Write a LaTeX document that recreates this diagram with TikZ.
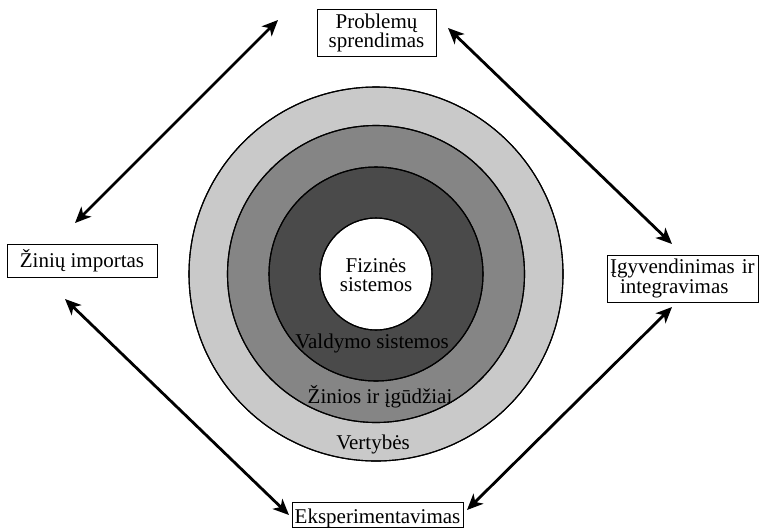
\documentclass[tikz,border=0pt]{standalone}
\usepackage{fontspec}
\setmainfont{Liberation Serif}
\usetikzlibrary{arrows.meta}
\begin{document}
\begin{tikzpicture}[x=1pt,y=-1pt,
  ring/.style={draw=black,line width=1.1pt},
  lbl/.style={font=\fontsize{21}{19}\selectfont,inner sep=0pt},
  boxed/.style={draw=black,line width=0.9pt,font=\fontsize{21}{18}\selectfont,inner sep=0pt},
  dbl/.style={line width=2.8pt,{Stealth[length=16pt,width=14pt,inset=4.5pt]}-{Stealth[length=16pt,width=14pt,inset=4.5pt]}}]
\useasboundingbox[fill=white] (0,0) rectangle (759,528);
% rings
\coordinate (c) at (376,274);
\fill[ring,fill=black!21] (c) circle[radius=187pt];
\fill[ring,fill=black!48] (c) circle[radius=148.5pt];
\fill[ring,fill=black!71] (c) circle[radius=107pt];
\fill[ring,fill=white] (c) circle[radius=56pt];
\draw[ring] (c) circle[radius=187pt];
\draw[ring] (c) circle[radius=148.5pt];
\draw[ring] (c) circle[radius=107pt];
\draw[ring] (c) circle[radius=56pt];
\node[lbl,align=center] (fiz) at (376,275.5) {Fizinės\\sistemos};
\node[lbl,anchor=base] (val) at (372,348) {Valdymo sistemos};
\node[lbl,anchor=base] (zin) at (380,403) {Žinios ir įgūdžiai};
\node[lbl,anchor=base] (ver) at (373,449) {Vertybės};
% boxes
\node[boxed,align=center,minimum width=119pt,minimum height=47pt] (prob) at (376.5,33) {Problemų\\sprendimas};
\node[boxed,align=left,minimum width=151pt,minimum height=47pt,text width=145pt] (igy) at (682.5,278.5) {Įgyvendinimas ir\\\hspace*{10pt}integravimas};
\node[boxed,anchor=base,minimum width=150pt,text height=23pt,text depth=10pt] (imp) at (82,267) {Žinių importas};
\node[boxed,anchor=base,minimum width=171pt,text height=21pt,text depth=4.5pt] (eks) at (377.5,523) {Eksperimentavimas};
% arrow ends
\coordinate (a1) at (75,223); \coordinate (a2) at (278,20);
\coordinate (b1) at (448,28); \coordinate (b2) at (672,244);
\coordinate (c1) at (65,299); \coordinate (c2) at (289,515);
\coordinate (d1) at (467,510); \coordinate (d2) at (672,307);
\draw[dbl] (a1) -- (a2);
\draw[dbl] (b1) -- (b2);
\draw[dbl] (c1) -- (c2);
\draw[dbl] (d1) -- (d2);
\end{tikzpicture}
\end{document}
